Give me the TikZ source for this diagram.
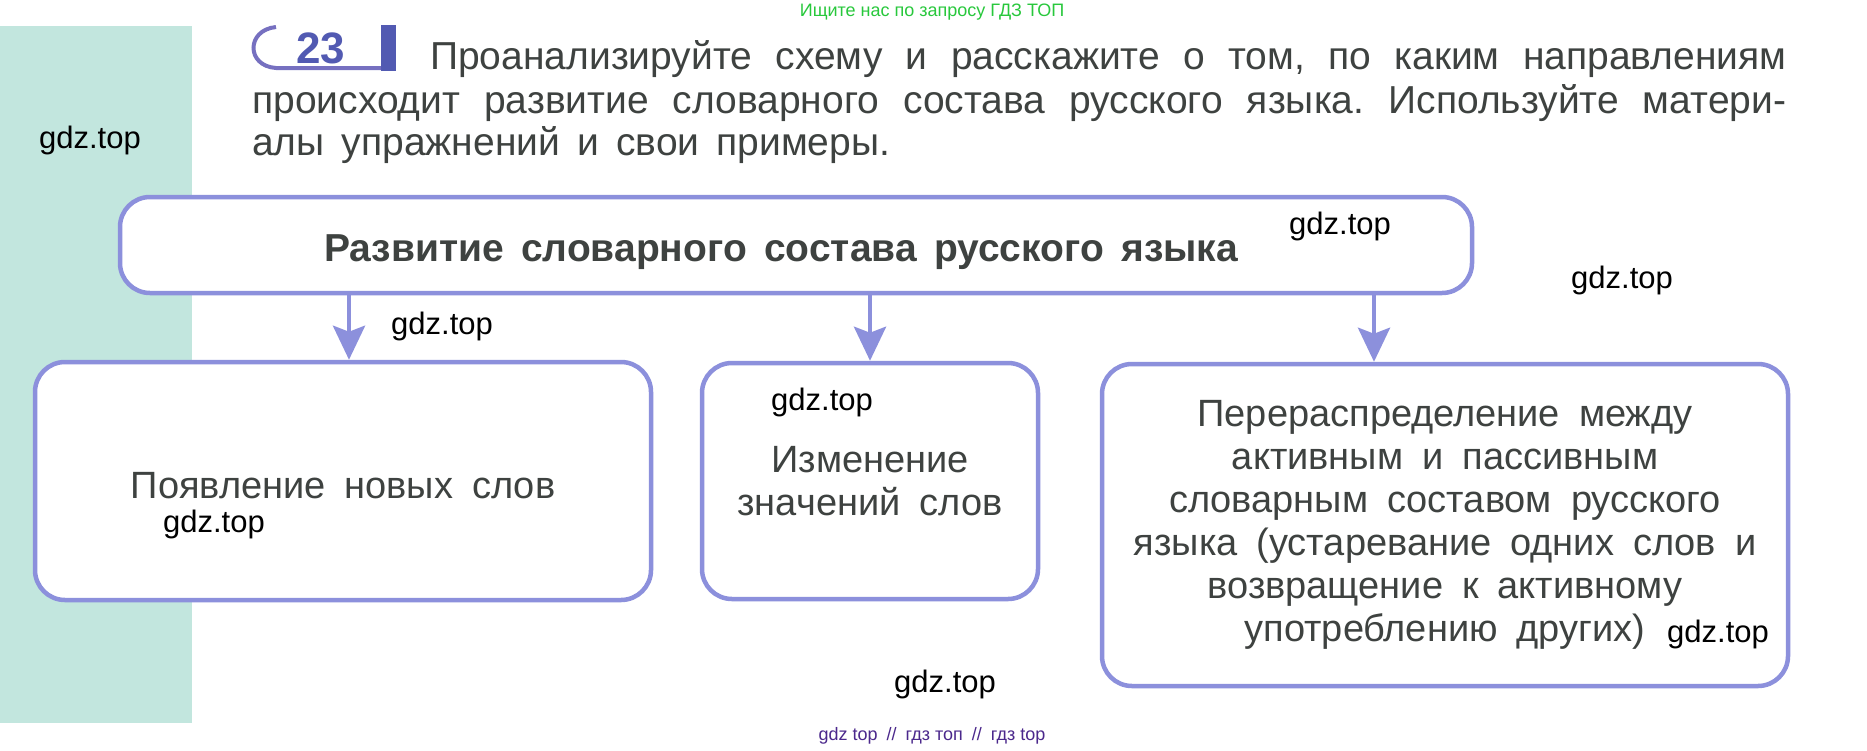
\documentclass[tikz,border=0pt]{standalone}
\usepackage{fontspec}
\setmainfont{Liberation Sans}
\setsansfont{Liberation Sans}
\usepackage{xcolor}
\usetikzlibrary{positioning, arrows.meta, calc}

\definecolor{frame}{RGB}{140,144,220}
\definecolor{sidebar}{RGB}{194,230,222}
\definecolor{ink}{RGB}{62,66,64}
\definecolor{badge}{RGB}{82,90,178}
\definecolor{badgeline}{RGB}{118,112,192}
\definecolor{greenlink}{RGB}{40,200,60}
\definecolor{purplelink}{RGB}{75,40,140}

\frenchspacing
\newcommand{\bodyfont}{\fontsize{38}{43}\selectfont\spaceskip=0.5em plus 0.1em\relax}

\begin{document}
\begin{tikzpicture}[x=1pt, y=1pt,
        >={Stealth[length=34pt, width=32pt, inset=6pt]},
        % Styles of the scheme
        headbox/.style={rectangle, draw=frame, line width=4.5pt, rounded corners=30pt,
                fill=white, minimum width=1352pt, minimum height=96pt, inner sep=0pt,
                text height=32pt, text depth=0pt,
                font=\fontsize{39}{42}\selectfont\bfseries, text=ink},
        branch/.style={rectangle, draw=frame, line width=4.5pt, rounded corners=30pt,
                fill=white, align=center, inner sep=0pt, font=\bodyfont, text=ink},
        arrow/.style={->, draw=frame, line width=4.5pt},
        task/.style={anchor=base west, inner sep=0pt, font=\fontsize{39}{43}\selectfont, text=ink},
        wm/.style={inner sep=0pt, font=\fontsize{31}{36}\selectfont, text=black},
        link/.style={inner sep=0pt, font=\fontsize{18}{21}\selectfont}]

    \useasboundingbox (0,0) rectangle (1867,-750);
    \fill[white] (0,0) rectangle (1867,-750);
    \fill[sidebar] (0,-26) rectangle (192,-723);

    % === TASK HEADER ===
    \node[link, text=greenlink] (search) at (932,-12) {Ищите нас по запросу ГДЗ ТОП};
    \draw[badgeline, line width=4pt] (276,-27) .. controls (246,-30) and (246,-66) .. (276,-68) -- (381,-68);
    \fill[badge] (381,-25) rectangle (396,-71);
    \node[font=\fontsize{44}{44}\selectfont\bfseries, text=badge] (num) at (321,-48) {23};
    \node[task] (line1) at (430,-69) {\makebox[1356pt][s]{Проанализируйте схему и расскажите о том, по каким направлениям}};
    \node[task] (line2) at (252,-113) {\makebox[1534pt][s]{происходит развитие словарного состава русского языка. Используйте матери-}};
    \node[task] (line3) at (252,-155) {\makebox[638pt][s]{алы упражнений и свои примеры.}};

    % === SCHEME ===
    \node[headbox] (title) at (796,-245)
        {\makebox[944pt][l]{\makebox[914pt][s]{Развитие словарного состава русского языка}}};
    \node[branch, minimum width=616pt, minimum height=238pt, text height=34pt, text depth=0pt] (newwords) at (343,-481)
        {Появление новых слов};
    \node[branch, minimum width=336pt, minimum height=236pt] (meaning) at (870,-481)
        {Изменение\\значений слов};
    \node[branch, minimum width=686pt, minimum height=322pt] (redistr) at (1445,-525)
        {Перераспределение между\\активным и пассивным\\словарным составом русского\\
         языка (устаревание одних слов и\\возвращение к активному\\употреблению других)};

    % arrows from the title down to the three directions
    \coordinate (a1) at ([xshift=6pt]newwords.north);
    \coordinate (a3) at ([xshift=-71pt]redistr.north);
    \draw[arrow] (a1 |- title.south) -- (a1);
    \draw[arrow] (meaning.north |- title.south) -- (meaning.north);
    \draw[arrow] (a3 |- title.south) -- (a3);

    % === WATERMARKS ===
    \node[wm] (wm1) at (90,-140) {gdz.top};
    \node[wm] (wm2) at (442,-326) {gdz.top};
    \node[wm] (wm3) at (1340,-226) {gdz.top};
    \node[wm] (wm4) at (1622,-280) {gdz.top};
    \node[wm] (wm5) at (822,-402) {gdz.top};
    \node[wm] (wm6) at (214,-524) {gdz.top};
    \node[wm] (wm7) at (1718,-634) {gdz.top};
    \node[wm] (wm8) at (945,-684) {gdz.top};
    \node[link, text=purplelink] (links) at (932,-736) {gdz top\enspace//\enspace гдз топ\enspace//\enspace гдз top};
\end{tikzpicture}
\end{document}
